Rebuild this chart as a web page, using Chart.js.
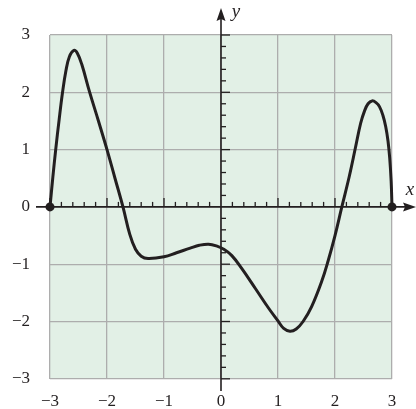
<!DOCTYPE html>
<html>
<head>
<meta charset="utf-8">
<script src="https://cdn.jsdelivr.net/npm/chart.js@4/dist/chart.umd.min.js"></script>
<style>
html,body{margin:0;padding:0;background:#fff;}
#wrap{width:416px;height:409px;position:relative;}
</style>
</head>
<body>
<div id="wrap"><canvas id="c" width="416" height="409"></canvas></div>
<script>
// Curve samples
const xValues = [-3, -2.95, -2.9, -2.84, -2.78, -2.72, -2.66, -2.58, -2.52, -2.44, -2.31, -2.15, -2.0, -1.86, -1.72, -1.6, -1.5, -1.4, -1.28, -1.0, -0.78, -0.54, -0.38, -0.22, -0.08, 0.05, 0.19, 0.36, 0.6, 0.83, 1.0, 1.1, 1.21, 1.32, 1.44, 1.59, 1.77, 1.88, 2.0, 2.12, 2.25, 2.36, 2.45, 2.52, 2.58, 2.65, 2.72, 2.78, 2.84, 2.89, 2.93, 2.96, 2.985, 3];
const yValues = [0, 0.52, 1.0, 1.52, 2.0, 2.38, 2.62, 2.73, 2.68, 2.48, 2.02, 1.5, 1.0, 0.5, 0, -0.48, -0.74, -0.86, -0.9, -0.87, -0.8, -0.72, -0.67, -0.65, -0.68, -0.74, -0.85, -1.07, -1.42, -1.76, -1.99, -2.12, -2.17, -2.13, -2.0, -1.74, -1.29, -0.94, -0.5, 0, 0.53, 1.04, 1.46, 1.68, 1.8, 1.85, 1.82, 1.75, 1.6, 1.4, 1.15, 0.85, 0.45, 0];
const endpointX = [-3, 3];
const endpointY = [0, 0];
const xTicks = [-3, -2, -1, 0, 1, 2, 3];
const yTicks = [-3, -2, -1, 0, 1, 2, 3];
const minorStep = 0.2;

const ink = '#231f20';
const fmt = v => (v < 0 ? '\u2212' + Math.abs(v) : String(v));

const axesPlugin = {
  id: 'axesPlugin',
  beforeDraw(chart) {
    const {ctx, chartArea: a} = chart;
    ctx.save();
    ctx.fillStyle = '#e2f0e6';
    ctx.fillRect(a.left, a.top, a.right - a.left, a.bottom - a.top);
    ctx.restore();
  },
  beforeDatasetsDraw(chart) {
    const {ctx, scales: {x, y}} = chart;
    const x0 = x.getPixelForValue(0), y0 = y.getPixelForValue(0);
    ctx.save();
    ctx.strokeStyle = ink;
    ctx.fillStyle = ink;
    ctx.lineWidth = 1.6;
    ctx.beginPath();
    ctx.moveTo(36, y0); ctx.lineTo(406, y0); ctx.stroke();
    ctx.beginPath();
    ctx.moveTo(416, y0); ctx.lineTo(403, y0 - 4.5); ctx.lineTo(405, y0); ctx.lineTo(403, y0 + 4.5); ctx.closePath(); ctx.fill();
    ctx.beginPath();
    ctx.moveTo(x0, 391); ctx.lineTo(x0, 18); ctx.stroke();
    ctx.beginPath();
    ctx.moveTo(x0, 8); ctx.lineTo(x0 - 4.5, 21); ctx.lineTo(x0, 19); ctx.lineTo(x0 + 4.5, 21); ctx.closePath(); ctx.fill();
    ctx.lineWidth = 1.3;
    for (let i = -15; i <= 15; i++) {
      const v = i * minorStep;
      const major = i % 5 === 0;
      if (i === 0) continue;
      const px = x.getPixelForValue(v);
      ctx.beginPath();
      ctx.moveTo(px, y0); ctx.lineTo(px, y0 - (major ? 9 : 5)); ctx.stroke();
      const py = y.getPixelForValue(v);
      ctx.beginPath();
      ctx.moveTo(x0, py); ctx.lineTo(x0 + (major ? 9 : 5), py); ctx.stroke();
    }
    ctx.font = 'italic 19px "Liberation Serif", "DejaVu Serif", serif';
    ctx.textAlign = 'center';
    ctx.textBaseline = 'middle';
    ctx.fillText('y', x0 + 15, 12);
    ctx.fillText('x', 410, y0 - 17);
    ctx.restore();
  }
};

new Chart(document.getElementById('c'), {
  type: 'scatter',
  data: {
    datasets: [
      {
        data: xValues.map((v, i) => ({x: v, y: yValues[i]})),
        showLine: true,
        borderColor: ink,
        borderWidth: 3,
        pointRadius: 0,
        tension: 0.4,
        fill: false
      },
      {
        data: endpointX.map((v, i) => ({x: v, y: endpointY[i]})),
        showLine: false,
        pointRadius: 4.5,
        pointBackgroundColor: ink,
        pointBorderColor: ink,
        pointBorderWidth: 0
      }
    ]
  },
  options: {
    responsive: false,
    animation: false,
    clip: false,
    layout: {padding: {top: 35, right: 24, left: 0, bottom: 0}},
    plugins: {legend: {display: false}, tooltip: {enabled: false}},
    scales: {
      x: {
        type: 'linear', min: -3, max: 3,
        afterFit(s) { s.height = 30; },
        afterBuildTicks(s) { s.ticks = xTicks.map(v => ({value: v})); },
        border: {display: false},
        grid: {color: '#adadad', lineWidth: 1.3, drawTicks: false},
        ticks: {
          padding: 13, color: ink, maxRotation: 0, autoSkip: false,
          font: {family: '"Liberation Serif", "Times New Roman", serif', size: 17},
          callback: v => fmt(v)
        }
      },
      y: {
        type: 'linear', min: -3, max: 3,
        afterFit(s) { s.width = 50; },
        afterBuildTicks(s) { s.ticks = yTicks.map(v => ({value: v})); },
        border: {display: false},
        grid: {color: '#adadad', lineWidth: 1.3, drawTicks: false},
        ticks: {
          padding: 20, color: ink, autoSkip: false,
          font: {family: '"Liberation Serif", "Times New Roman", serif', size: 17},
          callback: v => fmt(v)
        }
      }
    }
  },
  plugins: [axesPlugin]
});
</script>
</body>
</html>
